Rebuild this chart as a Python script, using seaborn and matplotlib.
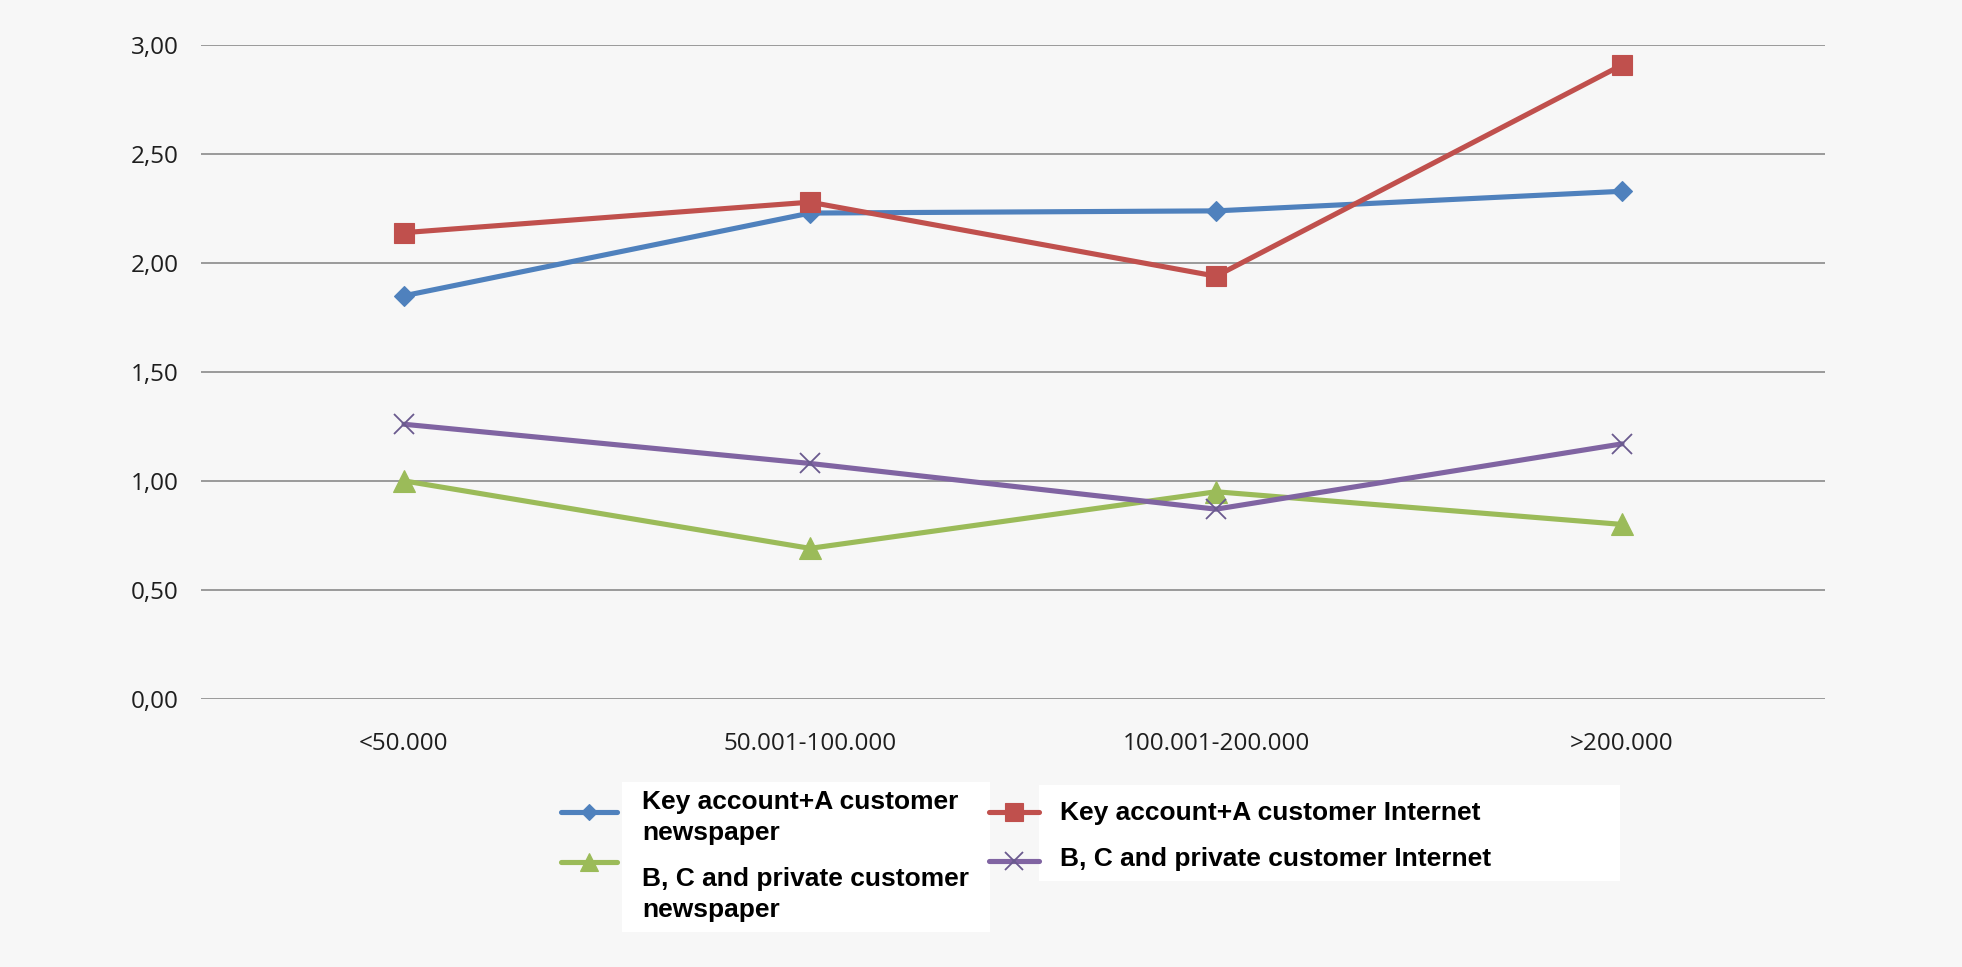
import matplotlib
matplotlib.use("Agg")
import matplotlib.pyplot as plt
from matplotlib.lines import Line2D
from matplotlib.patches import Rectangle
import seaborn as sns

# ---- data -------------------------------------------------------------
bands = ["<50.000", "50.001-100.000", "100.001-200.000", ">200.000"]

key_newspaper = [1.85, 2.23, 2.24, 2.33]
key_internet = [2.14, 2.28, 1.94, 2.91]
bc_newspaper = [1.00, 0.69, 0.95, 0.80]
bc_internet = [1.26, 1.08, 0.87, 1.17]

series_labels = [
    "Key account+A customer\nnewspaper",
    "Key account+A customer Internet",
    "B, C and private customer\nnewspaper",
    "B, C and private customer Internet",
]

y_ticks = [0.0, 0.5, 1.0, 1.5, 2.0, 2.5, 3.0]
y_tick_labels = ["0,00", "0,50", "1,00", "1,50", "2,00", "2,50", "3,00"]

# ---- styling ----------------------------------------------------------
W, H, DPI = 1962, 967, 100
BG = "#f7f7f7"

styles = [
    dict(color="#4F81BD", marker="D", ms=10.0, mec="#4F81BD", mew=0.8),
    dict(color="#C0504D", marker="s", ms=14.8, mec="#C0504D", mew=0.8),
    dict(color="#9BBB59", marker="^", ms=15.5, mec="#9BBB59", mew=0.8),
    dict(color="#8064A2", marker="x", ms=14.5, mec="#6a5a8e", mew=1.3),
]
series_values = [key_newspaper, key_internet, bc_newspaper, bc_internet]

sns.set_style("white")
plt.rcParams["font.family"] = ["Open Sans", "DejaVu Sans"]

fig = plt.figure(figsize=(W / DPI, H / DPI), dpi=DPI, facecolor=BG)


def fx(px):
    return px / W


def fy(py):
    return 1 - py / H


ax = fig.add_axes([fx(201), fy(698.6), fx(1825) - fx(201), fy(45.4) - fy(698.6)])
ax.set_facecolor(BG)

xpos = list(range(len(bands)))
for vals, st in zip(series_values, styles):
    sns.lineplot(
        x=xpos, y=vals, ax=ax, color=st["color"], linewidth=3.7,
        marker=st["marker"], markersize=st["ms"],
        markeredgecolor=st["mec"], markeredgewidth=st["mew"],
        legend=False, sort=False,
    )

ax.set_xlim(-0.5, len(bands) - 0.5)
ax.set_ylim(0, 3)
ax.set_xticks(xpos)
ax.set_xticklabels(bands)
ax.set_yticks(y_ticks)
ax.set_yticklabels(y_tick_labels)
ax.tick_params(axis="both", length=0, labelsize=17.5, colors="#1e1e1e")
ax.tick_params(axis="y", pad=16)
ax.tick_params(axis="x", pad=24)
ax.set_xlabel("")
ax.set_ylabel("")
ax.grid(axis="y", color="#8a8a8a", linewidth=1.2)
ax.grid(axis="x", visible=False)
ax.set_axisbelow(True)
for sp in ax.spines.values():
    sp.set_visible(False)

# ---- legend -----------------------------------------------------------
# white panels behind the legend text
for (x0, y0, x1, y1) in [(622, 782, 990, 932), (1039, 785, 1620, 881)]:
    fig.add_artist(Rectangle((fx(x0), fy(y1)), fx(x1) - fx(x0), fy(y0) - fy(y1),
                             transform=fig.transFigure, facecolor="white",
                             edgecolor="none", zorder=0))

# handle: (x_start, x_end, y) ; text: (x_left, [baselines])
legend_layout = [
    ((561, 617, 812), (642, [809, 840])),
    ((989, 1039, 812), (1060, [820])),
    ((561, 617, 862), (642, [886, 917])),
    ((989, 1039, 861), (1060, [866])),
]
for st, label, ((hx0, hx1, hy), (tx, baselines)) in zip(styles, series_labels, legend_layout):
    hx = [fx(hx0), fx((hx0 + hx1) / 2), fx(hx1)]
    fig.add_artist(Line2D(hx, [fy(hy)] * 3, transform=fig.transFigure,
                          color=st["color"], linewidth=3.7, marker=st["marker"],
                          markersize=st["ms"] * 0.85, markeredgecolor=st["mec"],
                          markeredgewidth=st["mew"], markevery=[1], zorder=2))
    for line, base in zip(label.split("\n"), baselines):
        fig.text(fx(tx), fy(base), line, ha="left", va="baseline",
                 fontsize=19, fontweight="bold", color="black",
                 family=["Liberation Sans", "DejaVu Sans"], zorder=3)

fig.savefig("out.png", dpi=DPI, facecolor=BG)
